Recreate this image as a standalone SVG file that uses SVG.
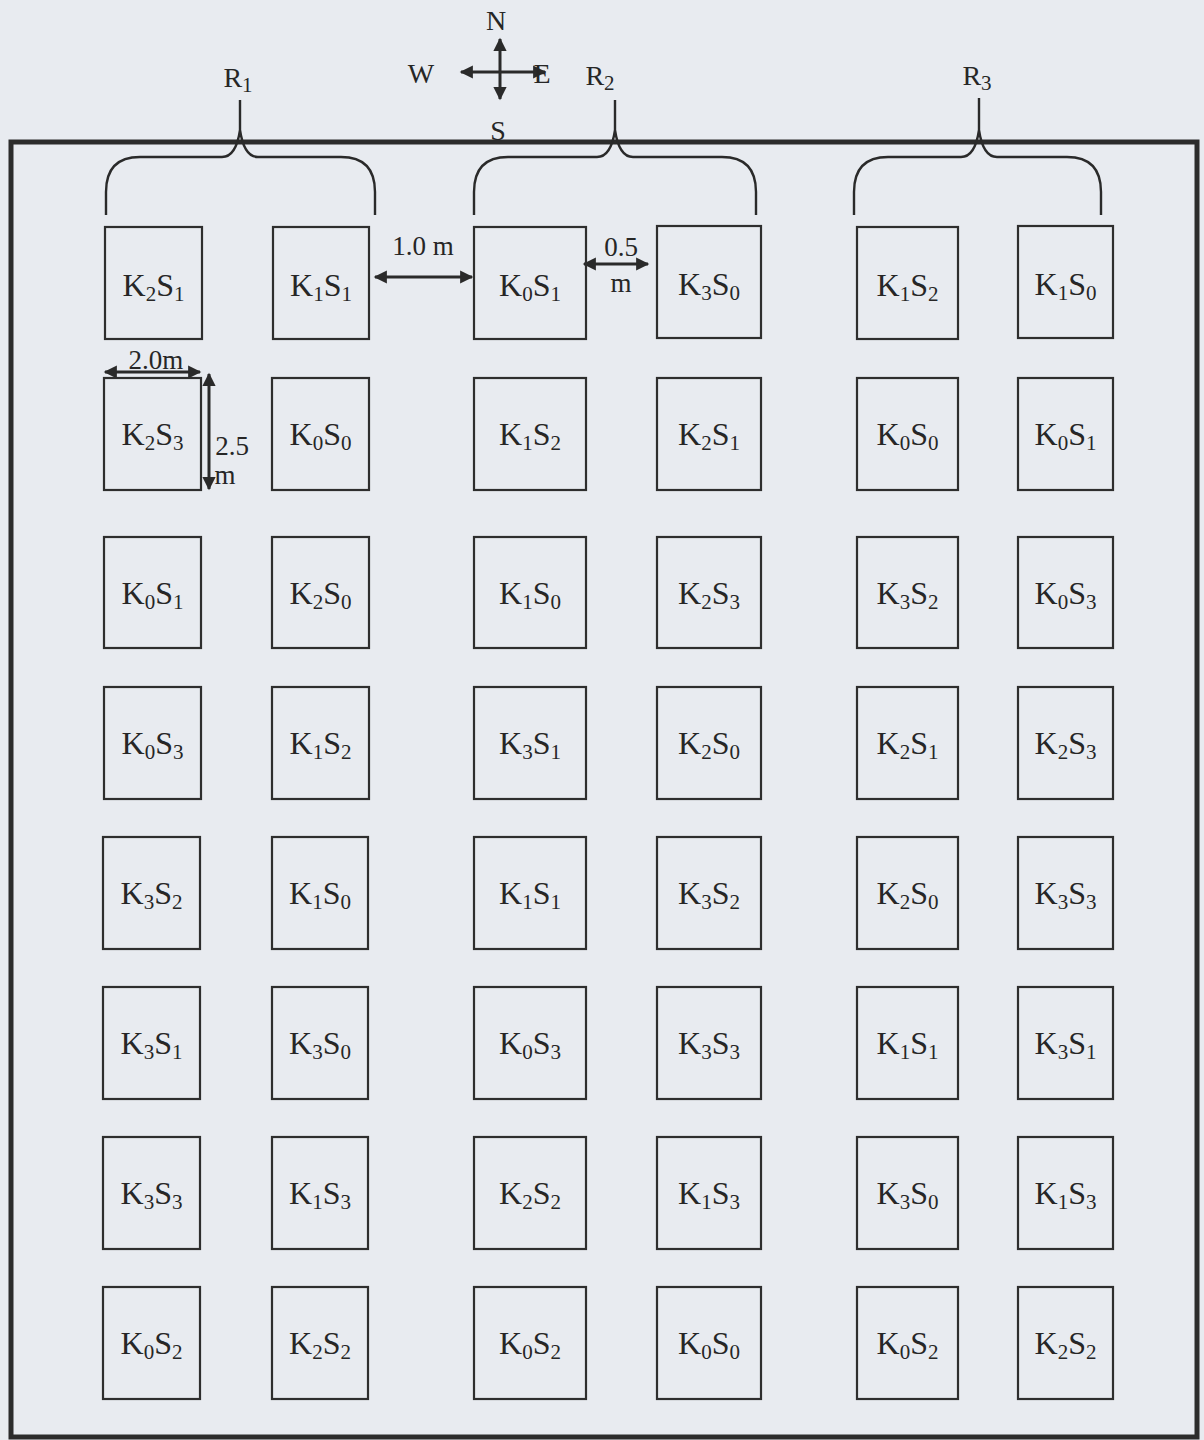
<svg xmlns="http://www.w3.org/2000/svg" width="1204" height="1440" viewBox="0 0 1204 1440">
<defs>
<style>
.bg{fill:#e8ebf0}
.frame{fill:none;stroke:#2c2c2c;stroke-width:5}
.plot{fill:none;stroke:#2e2e2e;stroke-width:2.2}
.brace{fill:none;stroke:#2a2a2a;stroke-width:2.4}
.dim{fill:none;stroke:#2a2a2a;stroke-width:3;marker-start:url(#ah);marker-end:url(#ah)}
.ray{fill:none;stroke:#2a2a2a;stroke-width:3;marker-end:url(#ah)}
text{font-family:"Liberation Serif","Times New Roman",serif;fill:#262626}
.lbl{font-size:32px;text-anchor:middle}
.sub{font-size:21px}
.dt{font-size:27px;text-anchor:middle}
.cp{font-size:28px;text-anchor:middle}
</style>
<marker id="ah" viewBox="0 0 10 10" refX="9" refY="5" markerWidth="5" markerHeight="4.4" orient="auto-start-reverse" markerUnits="strokeWidth">
<path d="M0,0 L10,5 L0,10 Z" fill="#2a2a2a"/>
</marker>
</defs>
<rect class="bg" x="0" y="0" width="1204" height="1440"/>
<rect class="frame" x="11" y="142" width="1186" height="1295"/>

<g id="compass">
<line class="ray" x1="500" y1="72" x2="461" y2="72"/>
<line class="ray" x1="500" y1="72" x2="545" y2="72"/>
<line class="ray" x1="500" y1="72" x2="500" y2="39"/>
<line class="ray" x1="500" y1="72" x2="500" y2="99"/>
<text class="cp" x="496" y="30">N</text>
<text class="cp" x="421" y="83">W</text>
<text class="cp" x="542" y="83">E</text>
<text class="cp" x="498" y="140">S</text>
</g>

<g id="braces">
<g id="R1">
<path class="brace" d="M106,215 L106,192 Q106,157 140,157 L222,157 Q236,157 240,130 Q244,157 258,157 L341,157 Q375,157 375,192 L375,215 M240,130 L240,100"/>
<text class="cp" x="238" y="87">R<tspan class="sub" dy="5">1</tspan></text>
</g>
<g id="R2">
<path class="brace" d="M474,215 L474,192 Q474,157 508,157 L597,157 Q611,157 615,130 Q619,157 633,157 L722,157 Q756,157 756,192 L756,215 M615,130 L615,100"/>
<text class="cp" x="600" y="85">R<tspan class="sub" dy="5">2</tspan></text>
</g>
<g id="R3">
<path class="brace" d="M854,215 L854,192 Q854,157 888,157 L961,157 Q975,157 979,130 Q983,157 997,157 L1067,157 Q1101,157 1101,192 L1101,215 M979,130 L979,98"/>
<text class="cp" x="977" y="85">R<tspan class="sub" dy="5">3</tspan></text>
</g>
</g>

<g id="connectors">
<line class="dim" x1="375" y1="277" x2="472" y2="277"/>
<line class="dim" x1="584" y1="264" x2="648" y2="264"/>
<line class="dim" x1="105" y1="372" x2="200" y2="372"/>
<line class="dim" x1="209" y1="374" x2="209" y2="489"/>
</g>

<g id="dimension-labels">
<text class="dt" x="423" y="255">1.0 m</text>
<text class="dt" x="621" y="256">0.5</text>
<text class="dt" x="621" y="292">m</text>
<text class="dt" x="156" y="369">2.0m</text>
<text class="dt" x="232" y="455">2.5</text>
<text class="dt" x="225" y="484">m</text>
</g>

<g id="plots">
<g id="r1c1"><rect class="plot" x="105" y="227" width="97" height="112"/><text class="lbl" x="153.5" y="296">K<tspan class="sub" dy="5">2</tspan><tspan dy="-5">S</tspan><tspan class="sub" dy="5">1</tspan></text></g>
<g id="r1c2"><rect class="plot" x="273" y="227" width="96" height="112"/><text class="lbl" x="321" y="296">K<tspan class="sub" dy="5">1</tspan><tspan dy="-5">S</tspan><tspan class="sub" dy="5">1</tspan></text></g>
<g id="r1c3"><rect class="plot" x="474" y="227" width="112" height="112"/><text class="lbl" x="530" y="296">K<tspan class="sub" dy="5">0</tspan><tspan dy="-5">S</tspan><tspan class="sub" dy="5">1</tspan></text></g>
<g id="r1c4"><rect class="plot" x="657" y="226" width="104" height="112"/><text class="lbl" x="709" y="295">K<tspan class="sub" dy="5">3</tspan><tspan dy="-5">S</tspan><tspan class="sub" dy="5">0</tspan></text></g>
<g id="r1c5"><rect class="plot" x="857" y="227" width="101" height="112"/><text class="lbl" x="907.5" y="296">K<tspan class="sub" dy="5">1</tspan><tspan dy="-5">S</tspan><tspan class="sub" dy="5">2</tspan></text></g>
<g id="r1c6"><rect class="plot" x="1018" y="226" width="95" height="112"/><text class="lbl" x="1065.5" y="295">K<tspan class="sub" dy="5">1</tspan><tspan dy="-5">S</tspan><tspan class="sub" dy="5">0</tspan></text></g>

<g id="r2c1"><rect class="plot" x="104" y="378" width="97" height="112"/><text class="lbl" x="152.5" y="445">K<tspan class="sub" dy="5">2</tspan><tspan dy="-5">S</tspan><tspan class="sub" dy="5">3</tspan></text></g>
<g id="r2c2"><rect class="plot" x="272" y="378" width="97" height="112"/><text class="lbl" x="320.5" y="445">K<tspan class="sub" dy="5">0</tspan><tspan dy="-5">S</tspan><tspan class="sub" dy="5">0</tspan></text></g>
<g id="r2c3"><rect class="plot" x="474" y="378" width="112" height="112"/><text class="lbl" x="530" y="445">K<tspan class="sub" dy="5">1</tspan><tspan dy="-5">S</tspan><tspan class="sub" dy="5">2</tspan></text></g>
<g id="r2c4"><rect class="plot" x="657" y="378" width="104" height="112"/><text class="lbl" x="709" y="445">K<tspan class="sub" dy="5">2</tspan><tspan dy="-5">S</tspan><tspan class="sub" dy="5">1</tspan></text></g>
<g id="r2c5"><rect class="plot" x="857" y="378" width="101" height="112"/><text class="lbl" x="907.5" y="445">K<tspan class="sub" dy="5">0</tspan><tspan dy="-5">S</tspan><tspan class="sub" dy="5">0</tspan></text></g>
<g id="r2c6"><rect class="plot" x="1018" y="378" width="95" height="112"/><text class="lbl" x="1065.5" y="445">K<tspan class="sub" dy="5">0</tspan><tspan dy="-5">S</tspan><tspan class="sub" dy="5">1</tspan></text></g>

<g id="r3c1"><rect class="plot" x="104" y="537" width="97" height="111"/><text class="lbl" x="152.5" y="604">K<tspan class="sub" dy="5">0</tspan><tspan dy="-5">S</tspan><tspan class="sub" dy="5">1</tspan></text></g>
<g id="r3c2"><rect class="plot" x="272" y="537" width="97" height="111"/><text class="lbl" x="320.5" y="604">K<tspan class="sub" dy="5">2</tspan><tspan dy="-5">S</tspan><tspan class="sub" dy="5">0</tspan></text></g>
<g id="r3c3"><rect class="plot" x="474" y="537" width="112" height="111"/><text class="lbl" x="530" y="604">K<tspan class="sub" dy="5">1</tspan><tspan dy="-5">S</tspan><tspan class="sub" dy="5">0</tspan></text></g>
<g id="r3c4"><rect class="plot" x="657" y="537" width="104" height="111"/><text class="lbl" x="709" y="604">K<tspan class="sub" dy="5">2</tspan><tspan dy="-5">S</tspan><tspan class="sub" dy="5">3</tspan></text></g>
<g id="r3c5"><rect class="plot" x="857" y="537" width="101" height="111"/><text class="lbl" x="907.5" y="604">K<tspan class="sub" dy="5">3</tspan><tspan dy="-5">S</tspan><tspan class="sub" dy="5">2</tspan></text></g>
<g id="r3c6"><rect class="plot" x="1018" y="537" width="95" height="111"/><text class="lbl" x="1065.5" y="604">K<tspan class="sub" dy="5">0</tspan><tspan dy="-5">S</tspan><tspan class="sub" dy="5">3</tspan></text></g>

<g id="r4c1"><rect class="plot" x="104" y="687" width="97" height="112"/><text class="lbl" x="152.5" y="754">K<tspan class="sub" dy="5">0</tspan><tspan dy="-5">S</tspan><tspan class="sub" dy="5">3</tspan></text></g>
<g id="r4c2"><rect class="plot" x="272" y="687" width="97" height="112"/><text class="lbl" x="320.5" y="754">K<tspan class="sub" dy="5">1</tspan><tspan dy="-5">S</tspan><tspan class="sub" dy="5">2</tspan></text></g>
<g id="r4c3"><rect class="plot" x="474" y="687" width="112" height="112"/><text class="lbl" x="530" y="754">K<tspan class="sub" dy="5">3</tspan><tspan dy="-5">S</tspan><tspan class="sub" dy="5">1</tspan></text></g>
<g id="r4c4"><rect class="plot" x="657" y="687" width="104" height="112"/><text class="lbl" x="709" y="754">K<tspan class="sub" dy="5">2</tspan><tspan dy="-5">S</tspan><tspan class="sub" dy="5">0</tspan></text></g>
<g id="r4c5"><rect class="plot" x="857" y="687" width="101" height="112"/><text class="lbl" x="907.5" y="754">K<tspan class="sub" dy="5">2</tspan><tspan dy="-5">S</tspan><tspan class="sub" dy="5">1</tspan></text></g>
<g id="r4c6"><rect class="plot" x="1018" y="687" width="95" height="112"/><text class="lbl" x="1065.5" y="754">K<tspan class="sub" dy="5">2</tspan><tspan dy="-5">S</tspan><tspan class="sub" dy="5">3</tspan></text></g>

<g id="r5c1"><rect class="plot" x="103" y="837" width="97" height="112"/><text class="lbl" x="151.5" y="904">K<tspan class="sub" dy="5">3</tspan><tspan dy="-5">S</tspan><tspan class="sub" dy="5">2</tspan></text></g>
<g id="r5c2"><rect class="plot" x="272" y="837" width="96" height="112"/><text class="lbl" x="320" y="904">K<tspan class="sub" dy="5">1</tspan><tspan dy="-5">S</tspan><tspan class="sub" dy="5">0</tspan></text></g>
<g id="r5c3"><rect class="plot" x="474" y="837" width="112" height="112"/><text class="lbl" x="530" y="904">K<tspan class="sub" dy="5">1</tspan><tspan dy="-5">S</tspan><tspan class="sub" dy="5">1</tspan></text></g>
<g id="r5c4"><rect class="plot" x="657" y="837" width="104" height="112"/><text class="lbl" x="709" y="904">K<tspan class="sub" dy="5">3</tspan><tspan dy="-5">S</tspan><tspan class="sub" dy="5">2</tspan></text></g>
<g id="r5c5"><rect class="plot" x="857" y="837" width="101" height="112"/><text class="lbl" x="907.5" y="904">K<tspan class="sub" dy="5">2</tspan><tspan dy="-5">S</tspan><tspan class="sub" dy="5">0</tspan></text></g>
<g id="r5c6"><rect class="plot" x="1018" y="837" width="95" height="112"/><text class="lbl" x="1065.5" y="904">K<tspan class="sub" dy="5">3</tspan><tspan dy="-5">S</tspan><tspan class="sub" dy="5">3</tspan></text></g>

<g id="r6c1"><rect class="plot" x="103" y="987" width="97" height="112"/><text class="lbl" x="151.5" y="1054">K<tspan class="sub" dy="5">3</tspan><tspan dy="-5">S</tspan><tspan class="sub" dy="5">1</tspan></text></g>
<g id="r6c2"><rect class="plot" x="272" y="987" width="96" height="112"/><text class="lbl" x="320" y="1054">K<tspan class="sub" dy="5">3</tspan><tspan dy="-5">S</tspan><tspan class="sub" dy="5">0</tspan></text></g>
<g id="r6c3"><rect class="plot" x="474" y="987" width="112" height="112"/><text class="lbl" x="530" y="1054">K<tspan class="sub" dy="5">0</tspan><tspan dy="-5">S</tspan><tspan class="sub" dy="5">3</tspan></text></g>
<g id="r6c4"><rect class="plot" x="657" y="987" width="104" height="112"/><text class="lbl" x="709" y="1054">K<tspan class="sub" dy="5">3</tspan><tspan dy="-5">S</tspan><tspan class="sub" dy="5">3</tspan></text></g>
<g id="r6c5"><rect class="plot" x="857" y="987" width="101" height="112"/><text class="lbl" x="907.5" y="1054">K<tspan class="sub" dy="5">1</tspan><tspan dy="-5">S</tspan><tspan class="sub" dy="5">1</tspan></text></g>
<g id="r6c6"><rect class="plot" x="1018" y="987" width="95" height="112"/><text class="lbl" x="1065.5" y="1054">K<tspan class="sub" dy="5">3</tspan><tspan dy="-5">S</tspan><tspan class="sub" dy="5">1</tspan></text></g>

<g id="r7c1"><rect class="plot" x="103" y="1137" width="97" height="112"/><text class="lbl" x="151.5" y="1204">K<tspan class="sub" dy="5">3</tspan><tspan dy="-5">S</tspan><tspan class="sub" dy="5">3</tspan></text></g>
<g id="r7c2"><rect class="plot" x="272" y="1137" width="96" height="112"/><text class="lbl" x="320" y="1204">K<tspan class="sub" dy="5">1</tspan><tspan dy="-5">S</tspan><tspan class="sub" dy="5">3</tspan></text></g>
<g id="r7c3"><rect class="plot" x="474" y="1137" width="112" height="112"/><text class="lbl" x="530" y="1204">K<tspan class="sub" dy="5">2</tspan><tspan dy="-5">S</tspan><tspan class="sub" dy="5">2</tspan></text></g>
<g id="r7c4"><rect class="plot" x="657" y="1137" width="104" height="112"/><text class="lbl" x="709" y="1204">K<tspan class="sub" dy="5">1</tspan><tspan dy="-5">S</tspan><tspan class="sub" dy="5">3</tspan></text></g>
<g id="r7c5"><rect class="plot" x="857" y="1137" width="101" height="112"/><text class="lbl" x="907.5" y="1204">K<tspan class="sub" dy="5">3</tspan><tspan dy="-5">S</tspan><tspan class="sub" dy="5">0</tspan></text></g>
<g id="r7c6"><rect class="plot" x="1018" y="1137" width="95" height="112"/><text class="lbl" x="1065.5" y="1204">K<tspan class="sub" dy="5">1</tspan><tspan dy="-5">S</tspan><tspan class="sub" dy="5">3</tspan></text></g>

<g id="r8c1"><rect class="plot" x="103" y="1287" width="97" height="112"/><text class="lbl" x="151.5" y="1354">K<tspan class="sub" dy="5">0</tspan><tspan dy="-5">S</tspan><tspan class="sub" dy="5">2</tspan></text></g>
<g id="r8c2"><rect class="plot" x="272" y="1287" width="96" height="112"/><text class="lbl" x="320" y="1354">K<tspan class="sub" dy="5">2</tspan><tspan dy="-5">S</tspan><tspan class="sub" dy="5">2</tspan></text></g>
<g id="r8c3"><rect class="plot" x="474" y="1287" width="112" height="112"/><text class="lbl" x="530" y="1354">K<tspan class="sub" dy="5">0</tspan><tspan dy="-5">S</tspan><tspan class="sub" dy="5">2</tspan></text></g>
<g id="r8c4"><rect class="plot" x="657" y="1287" width="104" height="112"/><text class="lbl" x="709" y="1354">K<tspan class="sub" dy="5">0</tspan><tspan dy="-5">S</tspan><tspan class="sub" dy="5">0</tspan></text></g>
<g id="r8c5"><rect class="plot" x="857" y="1287" width="101" height="112"/><text class="lbl" x="907.5" y="1354">K<tspan class="sub" dy="5">0</tspan><tspan dy="-5">S</tspan><tspan class="sub" dy="5">2</tspan></text></g>
<g id="r8c6"><rect class="plot" x="1018" y="1287" width="95" height="112"/><text class="lbl" x="1065.5" y="1354">K<tspan class="sub" dy="5">2</tspan><tspan dy="-5">S</tspan><tspan class="sub" dy="5">2</tspan></text></g>
</g>
</svg>
